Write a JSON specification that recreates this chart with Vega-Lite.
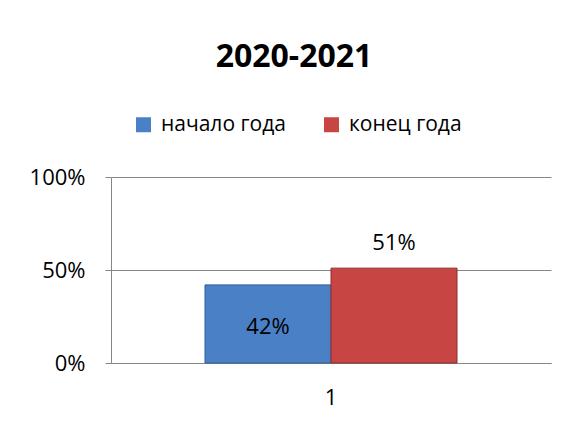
{
  "$schema": "https://vega.github.io/schema/vega-lite/v6.json",
  "width": 440,
  "height": 186,
  "autosize": {"type": "none"},
  "padding": {"left": 111, "top": 177, "right": 23, "bottom": 60},
  "background": "white",
  "data": {"values": [
    {"cat": "1", "series": "начало года", "value": 0.42},
    {"cat": "1", "series": "конец года", "value": 0.51}
  ]},
  "title": {
    "text": "2020-2021",
    "fontSize": 32,
    "font": "Open Sans",
    "fontWeight": "bold",
    "color": "black",
    "anchor": "middle",
    "dx": -37,
    "offset": 40
  },
  "config": {
    "view": {"stroke": null},
    "font": "Open Sans",
    "axis": {"labelFont": "Open Sans", "labelColor": "black", "labelFontSize": 22}
  },
  "encoding": {
    "x": {"field": "cat", "type": "nominal", "scale": {"paddingInner": 0, "paddingOuter": 0.373},
      "axis": {"title": null, "labelAngle": 0, "ticks": false, "labelPadding": 24, "domainColor": "#868686", "labelFontSize": 22}},
    "xOffset": {"field": "series", "type": "nominal", "scale": {"domain": ["начало года", "конец года"], "paddingInner": 0, "paddingOuter": 0}},
    "y": {"field": "value", "type": "quantitative", "scale": {"domain": [0, 1]},
      "axis": {"title": null, "values": [0, 0.5, 1], "format": ".0%", "grid": true, "gridColor": "#868686", "domainColor": "#868686", "tickColor": "#868686", "tickSize": 6, "labelPadding": 20}}
  },
  "layer": [
    {
      "mark": {"type": "bar", "strokeWidth": 1},
      "encoding": {
        "color": {"field": "series", "type": "nominal",
          "scale": {"domain": ["начало года", "конец года"], "range": ["#4A80C6", "#C74543"]},
          "legend": {"title": null, "orient": "none", "direction": "horizontal", "legendX": 22, "legendY": -63,
            "symbolType": "square", "symbolSize": 225, "symbolStrokeWidth": 0, "labelFontSize": 21, "labelColor": "black", "labelFont": "Open Sans", "columnPadding": 35, "labelOffset": 7}},
        "stroke": {"field": "series", "type": "nominal",
          "scale": {"domain": ["начало года", "конец года"], "range": ["#2F5F99", "#8E2E2C"]}, "legend": null}
      }
    },
    {
      "transform": [{"filter": "datum.series === 'начало года'"}],
      "mark": {"type": "text", "fontSize": 22, "dy": 42, "color": "black"},
      "encoding": {"text": {"field": "value", "type": "quantitative", "format": ".0%"}}
    },
    {
      "transform": [{"filter": "datum.series === 'конец года'"}],
      "mark": {"type": "text", "fontSize": 22, "dy": -25, "color": "black"},
      "encoding": {"text": {"field": "value", "type": "quantitative", "format": ".0%"}}
    }
  ]
}
